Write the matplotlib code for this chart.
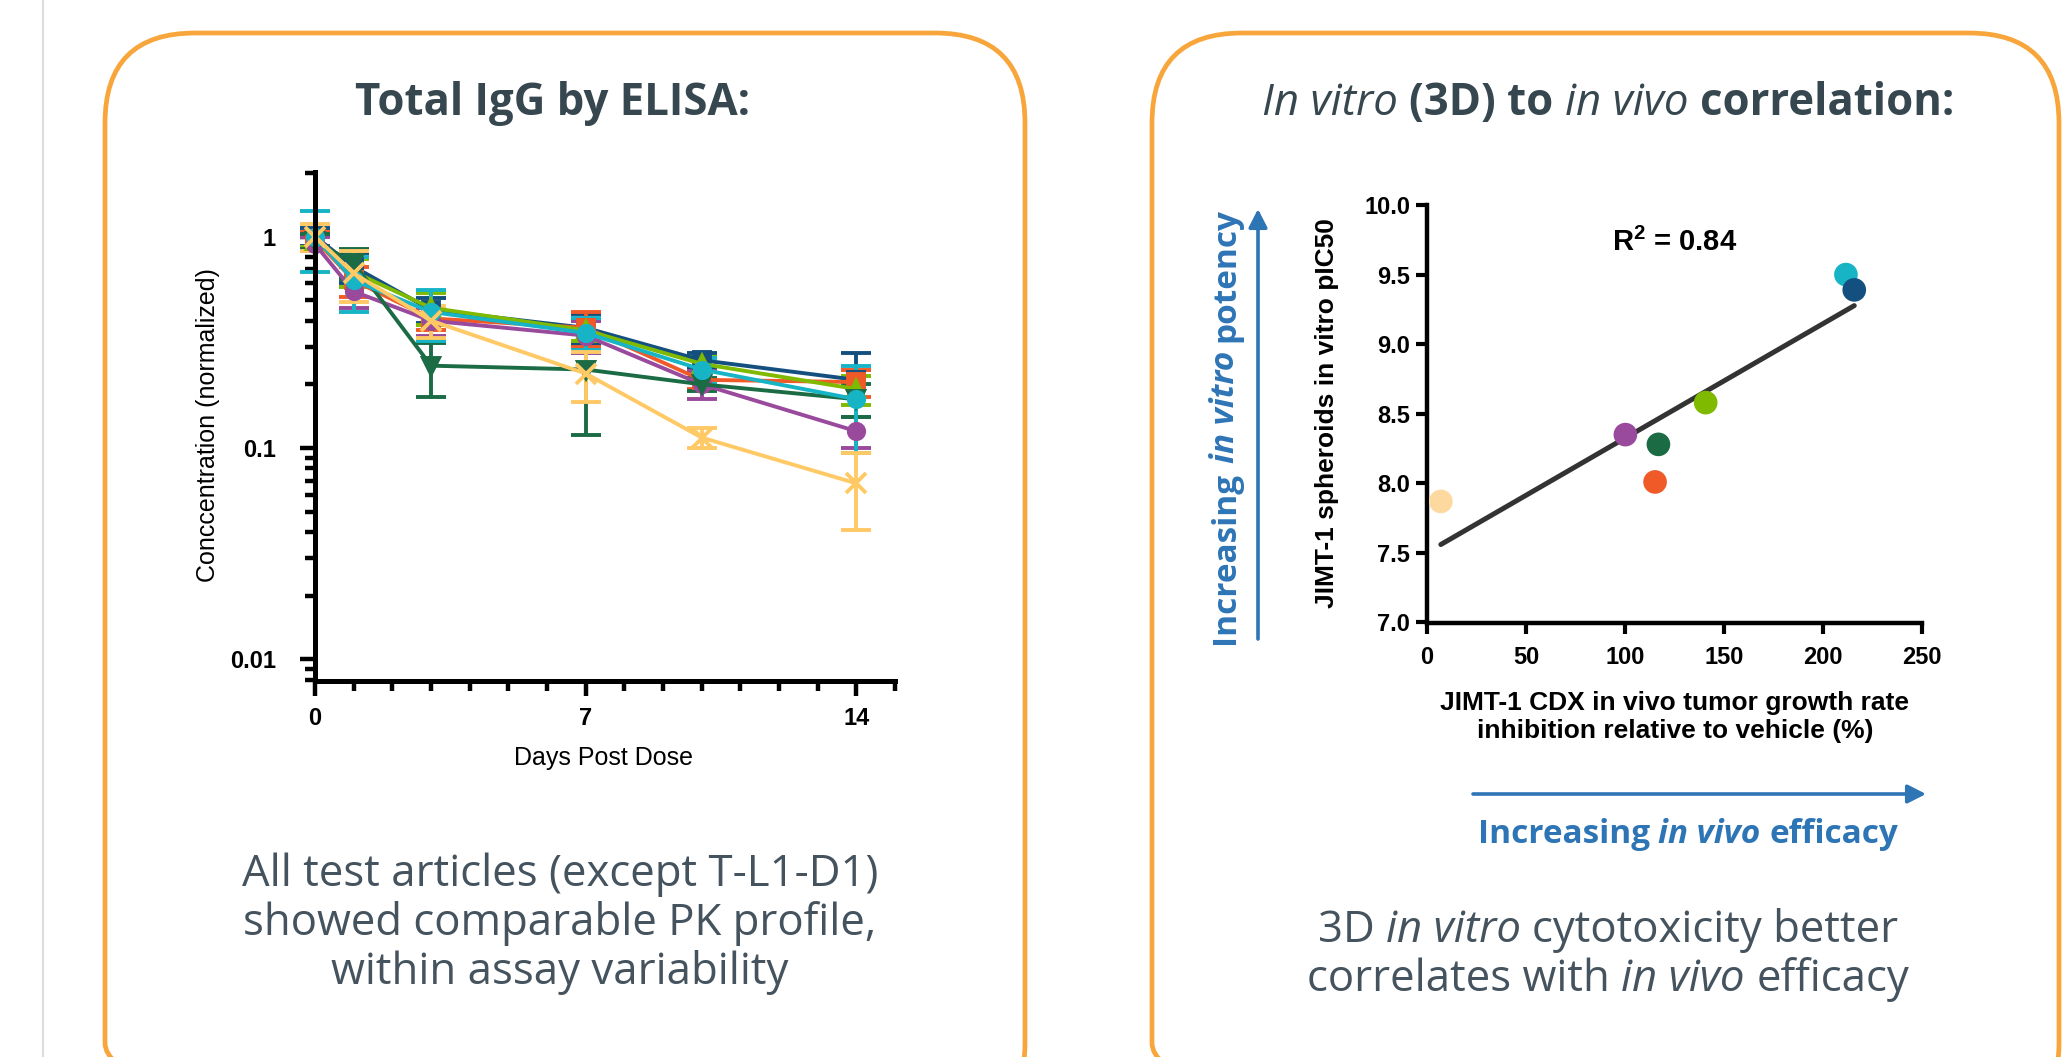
import numpy as np
import matplotlib
matplotlib.use("Agg")
import matplotlib.pyplot as plt
from matplotlib.patches import FancyBboxPatch, FancyArrowPatch
from matplotlib.ticker import FixedLocator, NullFormatter, FixedFormatter

plt.rcParams['font.family'] = ['Liberation Sans', 'DejaVu Sans']
plt.rcParams['mathtext.fontset'] = 'custom'
plt.rcParams['mathtext.rm'] = 'Liberation Sans'
plt.rcParams['mathtext.bf'] = 'Liberation Sans:bold'

# PK: days post dose vs normalized concentration (mean, SD)
days = [0, 1, 3, 7, 10, 14]
navy = [1.00, 0.72, 0.45, 0.37, 0.26, 0.21]
navy_sd = [0.10, 0.12, 0.06, 0.06, 0.02, 0.07]
orange = [0.97, 0.62, 0.41, 0.37, 0.21, 0.205]
orange_sd = [0.08, 0.10, 0.05, 0.07, 0.02, 0.03]
lime = [0.95, 0.68, 0.46, 0.36, 0.25, 0.19]
lime_sd = [0.06, 0.10, 0.08, 0.04, 0.02, 0.03]
purple = [0.92, 0.55, 0.40, 0.34, 0.20, 0.12]
purple_sd = [0.07, 0.09, 0.06, 0.06, 0.03, 0.02]
dkgreen = [0.95, 0.75, 0.245, 0.235, 0.20, 0.17]
dkgreen_sd = [0.08, 0.12, 0.07, 0.12, 0.015, 0.03]
cyan = [1.00, 0.62, 0.44, 0.35, 0.235, 0.17]
cyan_sd = [0.32, 0.18, 0.12, 0.06, 0.03, 0.075]
yellow = [1.00, 0.67, 0.40, 0.225, 0.112, 0.068]
yellow_sd = [0.15, 0.18, 0.07, 0.06, 0.012, 0.027]

# correlation: in vivo TGI (%) vs 3D in vitro pIC50
tgi = [7.0, 100.3, 117.0, 115.3, 140.9, 211.8, 216.0]
pic50 = [7.87, 8.35, 8.28, 8.01, 8.58, 9.50, 9.39]
r2_text = "0.84"

C_NAVY = '#14507f'
C_ORANGE = '#f05a28'
C_LIME = '#7fba00'
C_PURPLE = '#994a9c'
C_DKGREEN = '#1b6b45'
C_CYAN = '#17b4c6'
C_YELLOW = '#ffc966'
C_PEACH = '#fdd9a0'
point_colors = [C_PEACH, C_PURPLE, C_DKGREEN, C_ORANGE, C_LIME, C_CYAN, C_NAVY]

W, H = 2065, 1057
fig = plt.figure(figsize=(W / 100, H / 100), dpi=100)

# background layer in pixel coordinates (y down)
bg = fig.add_axes([0, 0, 1, 1])
bg.set_xlim(0, W)
bg.set_ylim(H, 0)
bg.axis('off')

bg.plot([43, 43], [0, H], color='#dddddd', lw=1.5)
box_col = '#f8a53c'
for x0, w in [(105, 920), (1152, 907)]:
    bg.add_patch(FancyBboxPatch((x0, 33), w, 1100, boxstyle="round,pad=0,rounding_size=90",
                                fc='none', ec=box_col, lw=3.4))

renderer = fig.canvas.get_renderer()


def rich_text(x, y, parts, size, color, family, rot=0):
    def width(s, st, wt):
        t = bg.text(0, 0, s, fontsize=size, family=family, style=st, weight=wt)
        w = t.get_window_extent(renderer).width
        t.remove()
        return w
    wt0 = parts[0][2]
    gap = width('n n', 'normal', wt0) - width('nn', 'normal', wt0)
    ws = [width(s, st, wt) for s, st, wt in parts]
    pos = -(sum(ws) + gap * (len(parts) - 1)) / 2
    for (s, st, wt), w in zip(parts, ws):
        if rot == 0:
            bg.text(x + pos, y, s, fontsize=size, family=family, style=st, weight=wt,
                    color=color, ha='left', va='baseline')
        else:
            bg.text(x, y - pos, s, fontsize=size, family=family, style=st, weight=wt,
                    color=color, ha='left', va='baseline', rotation=90, rotation_mode='anchor')
        pos += w + gap


title_col = '#37474f'
cap_col = '#44535e'
blue = '#2e75b6'

bg.text(553, 115, "Total IgG by ELISA:", fontsize=31.5, family='Open Sans', weight='bold',
        color=title_col, ha='center', va='baseline')
rich_text(1608, 115, [("In vitro", 'italic', 'normal'), ("(3D) to", 'normal', 'bold'),
                      ("in vivo", 'italic', 'normal'), ("correlation:", 'normal', 'bold')],
          31.5, title_col, 'Open Sans')

for txt, yb in [("All test articles (except T-L1-D1)", 886),
                ("showed comparable PK profile,", 935),
                ("within assay variability", 984)]:
    bg.text(560, yb, txt, fontsize=31.5, family='Open Sans', color=cap_col,
            ha='center', va='baseline')
rich_text(1608, 942, [("3D", 'normal', 'normal'), ("in vitro", 'italic', 'normal'),
                      ("cytotoxicity better", 'normal', 'normal')], 31.5, cap_col, 'Open Sans')
rich_text(1608, 991, [("correlates with", 'normal', 'normal'), ("in vivo", 'italic', 'normal'),
                      ("efficacy", 'normal', 'normal')], 31.5, cap_col, 'Open Sans')

# blue arrows
for p0, p1 in [((1258, 639), (1258, 209)), ((1473, 794), (1926, 794))]:
    bg.add_patch(FancyArrowPatch(p0, p1, arrowstyle='-|>,head_length=0.55,head_width=0.28',
                                 mutation_scale=20, color=blue, lw=2.6, shrinkA=0, shrinkB=0))
rich_text(1234, 426, [("Increasing", 'normal', 'bold'), ("in vitro", 'italic', 'bold'),
                      ("potency", 'normal', 'bold')], 24, blue, 'Open Sans', rot=90)
rich_text(1688, 843, [("Increasing", 'normal', 'bold'), ("in vivo", 'italic', 'bold'),
                      ("efficacy", 'normal', 'bold')], 24, blue, 'Open Sans')

# ---- left chart: PK profile
ax1 = fig.add_axes([315 / W, 1 - 681 / H, (895 - 315) / W, (681 - 172) / H])
ax1.patch.set_alpha(0)
series = [(navy, navy_sd, C_NAVY, 's'), (orange, orange_sd, C_ORANGE, 's'),
          (lime, lime_sd, C_LIME, '^'), (purple, purple_sd, C_PURPLE, 'o'),
          (dkgreen, dkgreen_sd, C_DKGREEN, 'v'), (cyan, cyan_sd, C_CYAN, 'o'),
          (yellow, yellow_sd, C_YELLOW, 'x')]
for vals, sd, c, m in series:
    ax1.errorbar(days, vals, yerr=sd, color=c, marker=m, ms=11 if m != 'x' else 15,
                 mew=2.8, lw=2.8, elinewidth=2.8, capsize=11, capthick=3.2, clip_on=False)
ax1.set_yscale('log')
ax1.set_ylim(0.0079, 2.02)
ax1.set_xlim(0, 15)
for s in ['top', 'right']:
    ax1.spines[s].set_visible(False)
for s in ['left', 'bottom']:
    ax1.spines[s].set_linewidth(3.6)
ax1.yaxis.set_major_locator(FixedLocator([0.01, 0.1, 1]))
ax1.yaxis.set_major_formatter(FixedFormatter(['0.01', '0.1', '1']))
minor_y = [k * 10.0 ** e for e in (-3, -2, -1, 0) for k in range(2, 10)]
ax1.yaxis.set_minor_locator(FixedLocator([v for v in minor_y if 0.0079 <= v <= 2.02]))
ax1.yaxis.set_minor_formatter(NullFormatter())
ax1.xaxis.set_major_locator(FixedLocator([0, 7, 14]))
ax1.xaxis.set_minor_locator(FixedLocator([d for d in range(16) if d not in (0, 7, 14)]))
ax1.tick_params(which='major', length=11, width=3.2, labelsize=17)
ax1.tick_params(which='minor', length=7, width=3.2)
ax1.tick_params(axis='y', which='major', pad=17)
ax1.tick_params(axis='x', which='major', pad=8)
for lab in ax1.get_xticklabels() + ax1.get_yticklabels():
    lab.set_fontweight('bold')
fig.text(208 / W, 1 - 425 / H, "Conccentration (normalized)", rotation=90, fontsize=18,
         ha='center', va='center')
fig.text(603 / W, 1 - 758 / H, "Days Post Dose", fontsize=18, ha='center', va='center')

# ---- right chart: in vitro vs in vivo
ax2 = fig.add_axes([1427 / W, 1 - 622.5 / H, (1921.5 - 1427) / W, (622.5 - 205) / H])
ax2.patch.set_alpha(0)
fit = np.polyfit(tgi, pic50, 1)
xs = np.array([min(tgi), max(tgi)])
ax2.plot(xs, np.polyval(fit, xs), color='#333333', lw=3.6, zorder=2, solid_capstyle='round')
ax2.scatter(tgi, pic50, s=290, c=point_colors, linewidths=0, zorder=3, clip_on=False)
ax2.set_xlim(0, 250)
ax2.set_ylim(7, 10)
ax2.set_xticks([0, 50, 100, 150, 200, 250])
ax2.set_yticks([7.0, 7.5, 8.0, 8.5, 9.0, 9.5, 10.0])
ax2.set_yticklabels(['7.0', '7.5', '8.0', '8.5', '9.0', '9.5', '10.0'])
for s in ['top', 'right']:
    ax2.spines[s].set_visible(False)
for s in ['left', 'bottom']:
    ax2.spines[s].set_linewidth(3.2)
ax2.tick_params(length=8, width=3, labelsize=17)
ax2.tick_params(axis='y', pad=4)
ax2.tick_params(axis='x', pad=9)
for lab in ax2.get_xticklabels() + ax2.get_yticklabels():
    lab.set_fontweight('bold')
ax2.text(0.5, 0.91, r"R$^{\mathbf{2}}$ = " + r2_text, transform=ax2.transAxes, fontsize=21,
         weight='bold', ha='center', va='center')
fig.text(1327 / W, 1 - 413 / H, "JIMT-1 spheroids in vitro pIC50", rotation=90, fontsize=19,
         weight='bold', ha='center', va='center')
fig.text(1675 / W, 1 - 717 / H, "JIMT-1 CDX in vivo tumor growth rate\ninhibition relative to vehicle (%)",
         fontsize=19, weight='bold', ha='center', va='center', linespacing=1.25)

fig.savefig('out.png', dpi=100)
